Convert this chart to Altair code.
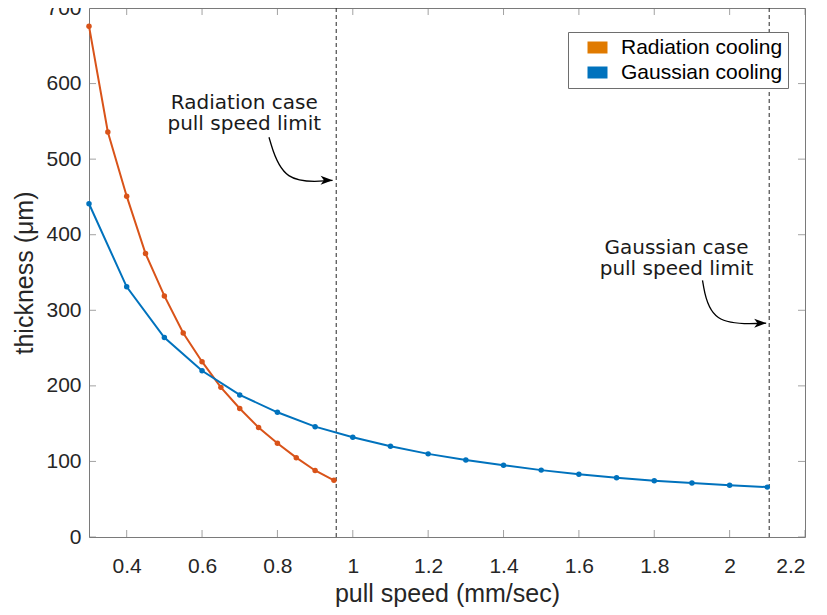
import altair as alt
import pandas as pd

# ---- data ----
rad_speed = [0.30, 0.35, 0.40, 0.45, 0.50, 0.55, 0.60, 0.65, 0.70, 0.75, 0.80, 0.85, 0.90, 0.95]
rad_thick = [676, 536, 451, 375, 319, 270, 232, 198, 170, 145, 124, 105, 88, 75]

gau_speed = [0.3, 0.4, 0.5, 0.6, 0.7, 0.8, 0.9, 1.0, 1.1, 1.2, 1.3, 1.4, 1.5, 1.6, 1.7, 1.8, 1.9, 2.0, 2.1]
gau_thick = [441, 331, 264, 220, 188, 165, 146, 132, 120, 110, 102, 95, 88.5, 83, 78.5, 74.5, 71.5, 68.5, 66]

series_names = ["Radiation cooling", "Gaussian cooling"]
line_colors = ["#D95319", "#0072BD"]
legend_colors = ["#E07A00", "#0072BD"]

limit_speed = [0.956, 2.105]

x_ticks = [0.4, 0.6, 0.8, 1.0, 1.2, 1.4, 1.6, 1.8, 2.0, 2.2]
y_ticks = [0, 100, 200, 300, 400, 500, 600, 700]
x_domain = [0.3, 2.2]
y_domain = [0, 700]

note_text = ["Radiation case\npull speed limit", "Gaussian case\npull speed limit"]
note_x = [0.712, 1.859]
note_y = [567, 374]

arrow_id = ["rad", "rad", "rad", "gau", "gau", "gau"]
arrow_x = [0.7776, 0.8145, 0.9464, 1.928, 1.949, 2.097]
arrow_y = [529, 467, 472, 339.5, 280, 283]
tip_x = [0.9464, 2.097]
tip_y = [472, 283]

# ---- tables ----
rad_df = pd.DataFrame({"x": rad_speed, "y": rad_thick})
gau_df = pd.DataFrame({"x": gau_speed, "y": gau_thick})
limit_df = pd.DataFrame({"x": limit_speed})
note_df = pd.DataFrame({"x": note_x, "y": note_y, "t": note_text})
arrow_df = pd.DataFrame({"x": arrow_x, "y": arrow_y, "a": arrow_id, "o": list(range(len(arrow_x)))})
tip_df = pd.DataFrame({"x": tip_x, "y": tip_y})
legend_df = pd.DataFrame({"series": series_names})
xt_df = pd.DataFrame({"x": x_ticks})
yt_df = pd.DataFrame({"y": y_ticks})

FONT = "Liberation Sans"
AXC = "#7a7a7a"
TXT = "#262626"

xs = alt.Scale(domain=x_domain, nice=False, zero=False)
ys = alt.Scale(domain=y_domain, nice=False, zero=False)

xaxis = alt.Axis(values=x_ticks, format="~g", ticks=False, tickSize=0, domain=False, grid=False,
                 labelFont=FONT, labelFontSize=21, labelColor=TXT, labelPadding=18,
                 titleFont=FONT, titleFontSize=25, titleColor=TXT, titleFontWeight="normal",
                 titlePadding=5)
yaxis = alt.Axis(values=y_ticks, ticks=False, tickSize=0, domain=False, grid=False,
                 labelFont=FONT, labelFontSize=21, labelColor=TXT, labelPadding=8,
                 titleFont=FONT, titleFontSize=25, titleColor=TXT, titleFontWeight="normal",
                 titlePadding=8)

X = alt.X("x:Q", scale=xs, axis=xaxis, title="pull speed (mm/sec)")
Y = alt.Y("y:Q", scale=ys, axis=yaxis, title="thickness (μm)")

rad_line = alt.Chart(rad_df).mark_line(
    color=line_colors[0], strokeWidth=2,
    point=alt.OverlayMarkDef(filled=True, size=30, color=line_colors[0])
).encode(x=X, y=Y)

gau_line = alt.Chart(gau_df).mark_line(
    color=line_colors[1], strokeWidth=2,
    point=alt.OverlayMarkDef(filled=True, size=30, color=line_colors[1])
).encode(x=X, y=Y)

limits = alt.Chart(limit_df).mark_rule(color=TXT, strokeWidth=1, strokeDash=[4, 3]).encode(x=X)

notes = alt.Chart(note_df).mark_text(
    font="DejaVu Sans", fontSize=20, lineBreak="\n", lineHeight=21,
    align="center", baseline="alphabetic", color="#1a1a1a"
).encode(x=X, y=Y, text="t:N")

arrows = alt.Chart(arrow_df).mark_line(interpolate="basis", color="black", strokeWidth=1.3).encode(
    x=X, y=Y, detail="a:N", order="o:Q")

heads = alt.Chart(tip_df).mark_point(
    shape="M1,0L-1,-0.75L-0.45,0L-1,0.75Z", filled=True, color="black", size=144,
    opacity=1, xOffset=-6
).encode(x=X, y=Y)

# inward ticks on all four sides
t_bottom = alt.Chart(xt_df).mark_tick(orient="vertical", size=7, thickness=1, color=AXC, yOffset=-3.5).encode(
    x=X, y=alt.datum(y_domain[0]))
t_top = alt.Chart(xt_df).mark_tick(orient="vertical", size=7, thickness=1, color=AXC, yOffset=3.5).encode(
    x=X, y=alt.datum(y_domain[1]))
t_left = alt.Chart(yt_df).mark_tick(orient="horizontal", size=7, thickness=1, color=AXC, xOffset=3.5).encode(
    y=Y, x=alt.datum(x_domain[0]))
t_right = alt.Chart(yt_df).mark_tick(orient="horizontal", size=7, thickness=1, color=AXC, xOffset=-3.5).encode(
    y=Y, x=alt.datum(x_domain[1]))

legend_layer = alt.Chart(legend_df).mark_square(opacity=0).encode(
    color=alt.Color("series:N",
                    scale=alt.Scale(domain=series_names, range=legend_colors),
                    sort=series_names,
                    legend=alt.Legend(
                        title=None, orient="none", legendX=479, legendY=24,
                        symbolType="M-1,-0.6H1V0.6H-1Z", symbolSize=400, symbolStrokeWidth=0,
                        symbolOpacity=1, symbolOffset=14,
                        labelFont=FONT, labelFontSize=21, labelColor="black", labelOffset=13,
                        labelLimit=400,
                        strokeColor="#6e6e6e", fillColor="white", padding=5, rowPadding=3,
                    ))
)

chart = alt.layer(
    limits, rad_line, gau_line, arrows, heads, notes,
    t_bottom, t_top, t_left, t_right, legend_layer
).properties(
    width=716, height=529,
    autosize=alt.AutoSizeParams(type="none"),
    padding={"left": 81, "top": 0, "right": 14, "bottom": 70},
    background="white",
).configure_view(stroke=AXC, strokeWidth=1)

chart.save("out.html", embed_options={"renderer": "svg", "actions": False})
